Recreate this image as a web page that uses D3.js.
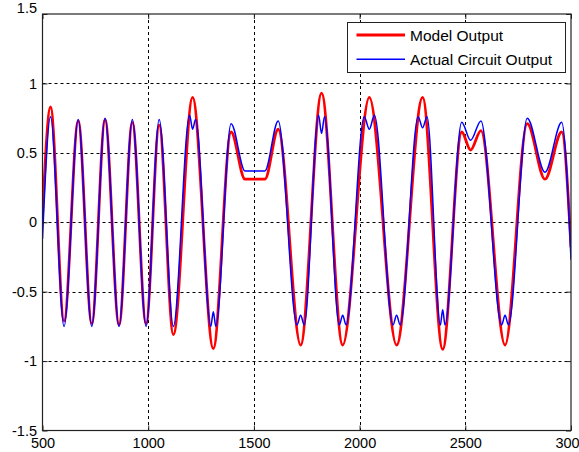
<!DOCTYPE html>
<html>
<head>
<meta charset="utf-8">
<script src="https://cdn.jsdelivr.net/npm/d3@7"></script>
<style>
  html, body { margin: 0; padding: 0; background: #ffffff; }
  svg { display: block; }
  text { font-family: "Liberation Sans", Arial, Helvetica, sans-serif; fill: #000; }
</style>
</head>
<body>
<svg id="chart" width="579" height="452"></svg>
<script>
// ---- data ----
const xTicks = [500, 1000, 1500, 2000, 2500, 3000];
const yTicks = [-1.5, -1, -0.5, 0, 0.5, 1, 1.5];
const seriesNames = ["Model Output", "Actual Circuit Output"];

const modelX = [500, 538, 602, 669, 733, 796, 862, 925, 990, 1052, 1119, 1210, 1308, 1392, 1458, 1552, 1615, 1721, 1820, 1920, 2046, 2175, 2298, 2393, 2483, 2525, 2574, 2688, 2793, 2877, 2956, 3000];
const modelY = [0.05, 0.83, -0.71, 0.73, -0.73, 0.74, -0.74, 0.72, -0.73, 0.70, -0.81, 0.90, -0.91, 0.65, 0.31, 0.31, 0.67, -0.885, 0.93, -0.885, 0.90, -0.885, 0.90, -0.915, 0.65, 0.52, 0.66, -0.885, 0.71, 0.31, 0.65, -0.18];

const actualX = [500, 538, 602, 669, 733, 796, 862, 925, 990, 1052, 1119,
  1196, 1210, 1224, 1296, 1308, 1320, 1392, 1458, 1552, 1615,
  1704, 1721, 1738, 1806, 1820, 1834, 1904, 1920, 1936,
  2022, 2046, 2070, 2158, 2175, 2192, 2277, 2298, 2319,
  2382, 2393, 2404, 2483, 2525, 2574, 2672, 2688, 2704, 2793, 2877, 2956, 3000];
const actualY = [-0.12, 0.76, -0.75, 0.74, -0.75, 0.75, -0.75, 0.74, -0.75, 0.74, -0.75,
  0.77, 0.67, 0.74, -0.75, -0.645, -0.75, 0.71, 0.37, 0.37, 0.73,
  -0.74, -0.67, -0.74, 0.77, 0.64, 0.76, -0.74, -0.67, -0.74,
  0.76, 0.67, 0.77, -0.74, -0.67, -0.74, 0.76, 0.68, 0.76,
  -0.74, -0.63, -0.74, 0.72, 0.59, 0.73, -0.74, -0.67, -0.74, 0.75, 0.36, 0.72, -0.27];

// ---- layout ----
const svg = d3.select("#chart");
const L = 42.5, R = 571, T = 14, B = 430.5;

const x = d3.scaleLinear().domain([500, 3000]).range([L, R]);
const y = d3.scaleLinear().domain([-1.5, 1.5]).range([B, T]);

svg.append("rect").attr("x", 0).attr("y", 0).attr("width", 579).attr("height", 452).attr("fill", "#fff");

svg.append("defs").append("clipPath").attr("id", "clip")
  .append("rect").attr("x", L).attr("y", T).attr("width", R - L).attr("height", B - T);

// grid
const grid = svg.append("g").attr("stroke", "#000").attr("stroke-width", 1).attr("stroke-dasharray", "3,3");
grid.selectAll("line.gx").data(xTicks.slice(1, -1)).join("line")
  .attr("x1", d => Math.round(x(d)) + 0.5).attr("x2", d => Math.round(x(d)) + 0.5)
  .attr("y1", T).attr("y2", B);
grid.selectAll("line.gy").data(yTicks.slice(1, -1)).join("line")
  .attr("y1", d => Math.round(y(d)) + 0.5).attr("y2", d => Math.round(y(d)) + 0.5)
  .attr("x1", L).attr("x2", R);

// lines
const line = d3.line().x(d => x(d[0])).y(d => y(d[1])).curve(d3.curveMonotoneX);
const plot = svg.append("g").attr("clip-path", "url(#clip)");
plot.append("path").datum(d3.zip(modelX, modelY))
  .attr("d", line).attr("fill", "none").attr("stroke", "#ff0000").attr("stroke-width", 2.8)
  .attr("stroke-linejoin", "round");
plot.append("path").datum(d3.zip(actualX, actualY))
  .attr("d", line).attr("fill", "none").attr("stroke", "#0000ff").attr("stroke-width", 1.5)
  .attr("stroke-linejoin", "round");

// axes
const fmt = d => String(d);
const fs = "14.5px";
const ax = svg.append("g").attr("transform", `translate(0,${B})`)
  .call(d3.axisBottom(x).tickValues(xTicks).tickFormat(fmt).tickSize(-5).tickPadding(7.5));
const axTop = svg.append("g").attr("transform", `translate(0,${T})`)
  .call(d3.axisTop(x).tickValues(xTicks).tickFormat("").tickSize(-5));
const ay = svg.append("g").attr("transform", `translate(${L},0)`)
  .call(d3.axisLeft(y).tickValues(yTicks).tickFormat(fmt).tickSize(-5).tickPadding(5.5));
const ayR = svg.append("g").attr("transform", `translate(${R},0)`)
  .call(d3.axisRight(y).tickValues(yTicks).tickFormat("").tickSize(-5));

[ax, axTop, ay, ayR].forEach(g => {
  g.select(".domain").remove();
  g.selectAll("line").attr("stroke", "#222").attr("stroke-width", 1);
  g.selectAll("text").style("font-size", fs).style("font-family", '"Liberation Sans", Arial, sans-serif').attr("fill", "#000");
});
ay.selectAll(".tick").filter(d => d === 1.5).select("text").attr("dy", "-0.13em");

// frame
svg.append("rect").attr("x", L).attr("y", T).attr("width", R - L).attr("height", B - T)
  .attr("fill", "none").attr("stroke", "#222").attr("stroke-width", 1.2);

// legend
const lg = svg.append("g");
lg.append("rect").attr("x", 347.5).attr("y", 22.5).attr("width", 218).attr("height", 50)
  .attr("fill", "#fff").attr("stroke", "#222").attr("stroke-width", 1);
const colors = ["#ff0000", "#0000ff"];
const widths = [2.8, 1.5];
seriesNames.forEach((name, i) => {
  const yy = 35 + i * 24.3;
  lg.append("line").attr("x1", 356.5).attr("x2", 405).attr("y1", yy).attr("y2", yy)
    .attr("stroke", colors[i]).attr("stroke-width", widths[i]);
  lg.append("text").attr("x", 410).attr("y", yy).attr("dy", "0.36em")
    .style("font-size", "15.5px").text(name);
});
</script>
</body>
</html>
